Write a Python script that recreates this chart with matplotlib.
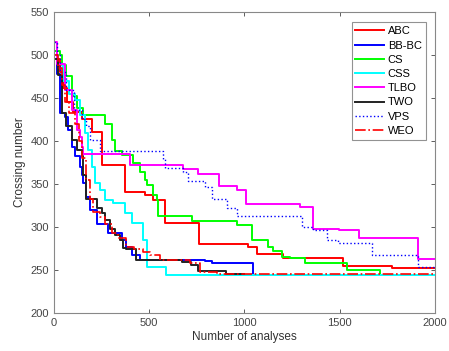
import numpy as np
import matplotlib
matplotlib.use('Agg')
import matplotlib.pyplot as plt

plt.rcParams['font.family'] = ['Liberation Sans', 'DejaVu Sans']

# 收敛曲线 (阶梯折线的拐点)
abc_x = [0, 15, 30, 50, 70, 100, 150, 200, 250, 373, 478, 520, 585, 761, 1018, 1064, 1203, 1517, 1774, 2000]
abc_y = [505, 495, 480, 462, 445, 434, 425, 411, 372, 341, 337, 331, 305, 280, 277, 269, 264, 255, 252, 252]

bbbc_x = [0, 15, 31, 58, 75, 93, 110, 136, 145, 154, 168, 189, 224, 285, 355, 381, 408, 451, 793, 828, 1043]
bbbc_y = [500, 478, 432, 428, 413, 393, 382, 370, 360, 351, 335, 320, 304, 293, 285, 277, 267, 262, 260, 258, 245]

cs_x = [0, 30, 40, 66, 93, 119, 154, 268, 303, 320, 355, 416, 451, 478, 487, 520, 539, 547, 723,
        959, 1038, 1124, 1150, 1195, 1239, 1317, 1536, 1711]
cs_y = [505, 500, 488, 475, 452, 438, 430, 420, 401, 388, 384, 374, 364, 355, 349, 337, 331, 313, 307,
        302, 285, 277, 272, 265, 264, 258, 250, 247]

css_x = [0, 20, 50, 80, 110, 136, 163, 180, 198, 215, 241, 270, 310, 373, 408, 467, 487, 588, 2000]
css_y = [500, 490, 470, 455, 448, 430, 409, 390, 370, 351, 343, 331, 328, 316, 305, 285, 253, 244, 244]

tlbo_x = [0, 14, 58, 93, 119, 136, 145, 154, 399, 677, 756, 866, 960, 1007, 1290, 1360, 1496, 1601, 1911, 2000]
tlbo_y = [515, 490, 459, 436, 413, 405, 393, 385, 372, 367, 362, 348, 343, 327, 323, 298, 296, 287, 263, 263]

two_x = [0, 23, 40, 66, 93, 119, 145, 154, 171, 224, 250, 268, 294, 320, 346, 364, 381, 430, 670, 720, 758, 905, 1000]
two_y = [495, 477, 432, 417, 401, 390, 382, 360, 333, 322, 316, 308, 298, 291, 285, 276, 274, 262, 259, 256, 249, 245, 245]

vps_x = [0, 15, 30, 66, 105, 150, 171, 189, 241, 573, 583, 677, 703, 793, 829, 908, 960, 1302, 1360, 1433,
         1491, 1669, 1911, 2000]
vps_y = [515, 500, 480, 459, 436, 425, 417, 401, 388, 379, 369, 364, 354, 347, 333, 322, 313, 300, 296, 285,
         281, 267, 254, 254]

weo_x = [0, 20, 40, 60, 80, 110, 130, 150, 170, 190, 206, 241, 268, 303, 337, 381, 420, 467, 504, 556, 714,
         766, 854, 2000]
weo_y = [500, 485, 465, 445, 432, 420, 400, 380, 355, 333, 318, 312, 304, 293, 287, 277, 275, 271, 267, 262, 258,
         248, 245, 245]

fig = plt.figure(figsize=(4.49, 3.51), dpi=100)
ax = fig.add_axes([0.120, 0.108, 0.849, 0.858])

lw = 1.4
ax.plot(abc_x, abc_y, drawstyle='steps-post', color='#ff0000', lw=lw, label='ABC')
ax.plot(bbbc_x, bbbc_y, drawstyle='steps-post', color='#0000ff', lw=lw, label='BB-BC')
ax.plot(cs_x, cs_y, drawstyle='steps-post', color='#00ff00', lw=lw, label='CS')
ax.plot(css_x, css_y, drawstyle='steps-post', color='#00ffff', lw=lw, label='CSS')
ax.plot(tlbo_x, tlbo_y, drawstyle='steps-post', color='#ff00ff', lw=lw, label='TLBO')
ax.plot(two_x, two_y, drawstyle='steps-post', color='#222222', lw=lw, label='TWO')
ax.plot(vps_x, vps_y, drawstyle='steps-post', color='#0000ff', lw=1.0, ls=':', label='VPS')
ax.plot(weo_x, weo_y, drawstyle='steps-post', color='#ff0000', lw=1.2, ls='-.', label='WEO')

ax.set_xlim(0, 2000)
ax.set_ylim(200, 550)
ax.set_xticks([0, 500, 1000, 1500, 2000])
ax.set_yticks(np.arange(200, 551, 50))
ax.tick_params(direction='in', top=True, right=True, labelsize=8, colors='#444444', length=3, width=0.6)
for sp in ax.spines.values():
    sp.set_color('#888888')
    sp.set_linewidth(0.8)

ax.set_xlabel('Number of analyses', fontsize=8.5, color='#333333', labelpad=2)
ax.set_ylabel('Crossing number', fontsize=8.5, color='#333333', labelpad=3)

leg = ax.legend(loc='upper right', bbox_to_anchor=(0.975, 0.965), fontsize=8, frameon=True, fancybox=False,
                handlelength=2.6, handletextpad=0.3, labelspacing=0.38, borderpad=0.35, borderaxespad=0)
leg.get_frame().set_edgecolor('#777777')
leg.get_frame().set_linewidth(0.8)

plt.savefig('out.png', dpi=100)
